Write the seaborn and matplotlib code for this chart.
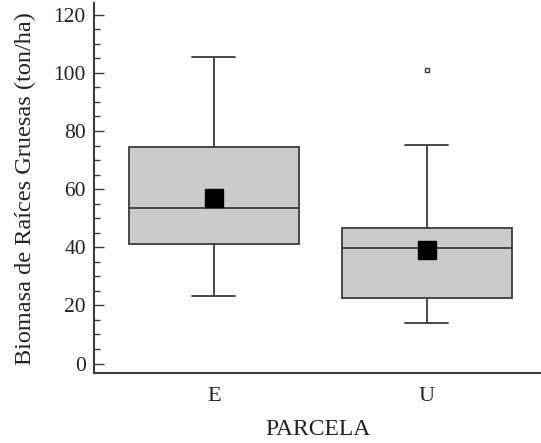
import numpy as np
import pandas as pd
import seaborn as sns
import matplotlib
matplotlib.use("Agg")
import matplotlib.pyplot as plt
from matplotlib.ticker import MultipleLocator

# Data (chosen so quartiles/whiskers/means match)
parcela_E = [23.2, 32.0, 41.0, 47.0, 53.4, 58.0, 74.6, 78.3, 105.5]
parcela_U = [13.8, 15.0, 18.0, 22.7, 24.0, 25.6, 39.6, 40.0, 40.0, 46.7, 46.7, 75.1, 101.1]
categories = ["E", "U"]
y_ticks = [0, 20, 40, 60, 80, 100, 120]

df = pd.DataFrame({
    "PARCELA": ["E"] * len(parcela_E) + ["U"] * len(parcela_U),
    "biomasa": parcela_E + parcela_U,
})

sns.set_theme(style="white")
plt.rcParams["font.family"] = ["Liberation Serif", "DejaVu Serif"]

fig = plt.figure(figsize=(5.41, 4.43), dpi=100)
ax = fig.add_axes([0.174, 0.157, 0.826, 0.836])

edge = "#3c3c3c"
sns.boxplot(
    data=df, x="PARCELA", y="biomasa", order=categories, ax=ax,
    color="#cbcbcb", saturation=1, linecolor=edge, linewidth=1.3, width=0.8,
    showmeans=True,
    meanprops=dict(marker="s", markerfacecolor="black", markeredgecolor="black",
                   markersize=13.5),
    flierprops=dict(marker="s", markerfacecolor="white", markeredgecolor=edge,
                    markersize=3.5, markeredgewidth=1.0),
    capwidths=0.2,
)

ax.set_xlim(-0.562, 1.537)
ax.set_ylim(-3.4, 124)
ax.set_yticks(y_ticks)
ax.yaxis.set_minor_locator(MultipleLocator(5))
ax.tick_params(axis="y", which="major", direction="in", length=7, width=1.0,
               color=edge, labelsize=15.5, pad=6, left=True)
ax.tick_params(axis="y", which="minor", direction="in", length=4, width=1.0,
               color=edge, left=True)
ax.tick_params(axis="x", length=0, labelsize=16, pad=10)

for s in ["top", "right"]:
    ax.spines[s].set_visible(False)
for s in ["left", "bottom"]:
    ax.spines[s].set_color(edge)
    ax.spines[s].set_linewidth(1.5)

ax.set_xlabel("PARCELA", fontsize=17, labelpad=9, color="#222222")
ax.set_ylabel("Biomasa de Raíces Gruesas (ton/ha)", fontsize=17.5, color="#222222")
ax.yaxis.set_label_coords(-0.13, 0.5)
for lab in ax.get_xticklabels() + ax.get_yticklabels():
    lab.set_color("#222222")

fig.savefig("out.png", dpi=100)
